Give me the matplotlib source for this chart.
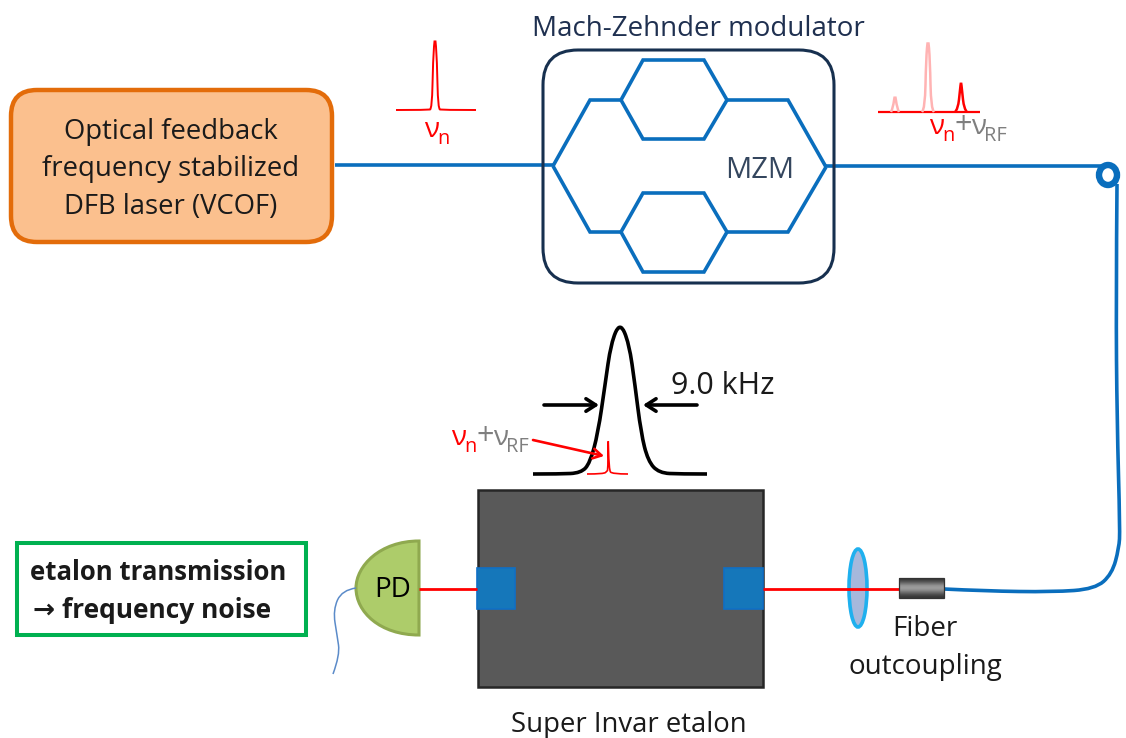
import numpy as np
import matplotlib
matplotlib.use("Agg")
import matplotlib.pyplot as plt
from matplotlib.path import Path
from matplotlib.patches import PathPatch, FancyBboxPatch, Rectangle, Ellipse

plt.rcParams['font.family'] = ['Open Sans', 'DejaVu Sans']

BLUE = '#0a6ebd'
RED = '#ff0000'
PALE = '#ffb3b3'
GREY = '#7f7f7f'
NAVY = '#17304f'

laser_lines = ["Optical feedback", "frequency stabilized", "DFB laser (VCOF)"]
laser_line_y = [132, 169, 207]

arm_in = [(335, 165), (553, 165)]
arm_upper = [(553, 166), (590, 100), (621, 100)]
arm_lower = [(553, 166), (590, 232), (621, 232)]
arm_out_upper = [(727, 100), (788, 100), (826, 167)]
arm_out_lower = [(727, 232), (788, 232), (826, 167)]
hex_upper = [(621, 100), (643, 60), (704, 60), (727, 100), (704, 139), (643, 139), (621, 100)]
hex_lower = [(621, 232), (643, 193), (704, 193), (727, 232), (704, 272), (643, 272), (621, 232)]
fiber_top = [(826, 166), (1113, 166)]
fiber_down = [(1117, 184), (1116, 300), (1117, 420), (1120, 530), (1119, 548), (1112, 574), (1095, 589), (1053, 592), (985, 591), (944, 589)]

peak_in = [(396, 110), (428, 110), (432, 109), (433, 60), (435, 33), (437, 60), (438, 109), (442, 110), (476, 110)]
base_out = [(878, 112), (980, 112)]
peak_small = [(891, 112), (893, 108), (895, 93), (897, 108), (899, 112)]
peak_mid = [(922, 112), (925, 109), (926, 60), (928, 36), (930, 60), (931, 109), (934, 112)]
peak_rf = [(955, 112), (958, 109), (960, 90), (961, 81), (962, 90), (964, 109), (967, 112)]

airy = [(533, 474), (560, 474), (581, 473), (590, 463), (598, 433), (605, 385), (611, 343),
        (620, 322), (629, 343), (635, 385), (641, 433), (648, 461), (659, 473), (680, 474), (707, 474)]
peak_etalon = [(587, 474), (604, 474), (607, 471), (608, 470), (608, 429), (609, 470), (612, 474), (628, 474)]

pd_wire = [(356, 588), (342, 590), (333, 610), (337, 635), (340, 655), (333, 674)]
beam_left = [(419, 589), (477, 589)]
beam_right = [(763, 589), (899, 589)]
collimator_shade = [0.22, 0.32, 0.45, 0.58, 0.62, 0.55, 0.42, 0.30, 0.22]


def smooth(pts):
    # read points are quadratic control points, the ends stay where they are
    verts = [pts[0]]
    codes = [Path.MOVETO]
    for i in range(1, len(pts) - 1):
        if i < len(pts) - 2:
            end = ((pts[i][0] + pts[i + 1][0]) / 2, (pts[i][1] + pts[i + 1][1]) / 2)
        else:
            end = pts[-1]
        verts += [pts[i], end]
        codes += [Path.CURVE3, Path.CURVE3]
    return Path(verts, codes)


def line(ax, pts, color, lw, **kw):
    x, y = zip(*pts)
    ax.plot(x, y, color=color, lw=lw, solid_joinstyle='miter', solid_capstyle='butt', **kw)


def curve(ax, pts, color, lw, z=3):
    ax.add_patch(PathPatch(smooth(pts), fc='none', ec=color, lw=lw, capstyle='butt', zorder=z))


def nu_label(ax, x, y, size=20):
    # v_n + v_RF built from separate pieces, x is the left edge of the v
    ax.text(x, y, "ν", color=RED, fontsize=size, ha='left', va='baseline')
    ax.text(x + 13, y + 7, "n", color=RED, fontsize=size * 0.72, ha='left', va='baseline')


def nu_rf_label(ax, x, y, size=20):
    nu_label(ax, x, y, size)
    ax.text(x + 25, y, "+", color=GREY, fontsize=size + 2, ha='left', va='baseline')
    ax.text(x + 42, y, "ν", color=GREY, fontsize=size, ha='left', va='baseline')
    ax.text(x + 55, y + 7, "RF", color=GREY, fontsize=size * 0.72, ha='left', va='baseline')


fig = plt.figure(figsize=(11.26, 7.38), dpi=100)
ax = fig.add_axes([0, 0, 1, 1])
ax.set_xlim(0, 1126)
ax.set_ylim(738, 0)
ax.axis('off')

# laser
ax.add_patch(FancyBboxPatch((29, 108), 285, 116, boxstyle="round,pad=18,rounding_size=26",
                            fc='#fbc08e', ec='#e36c0a', lw=3.2))
for txt, y in zip(laser_lines, laser_line_y):
    ax.text(171, y, txt, fontsize=19.8, color='#1a1a1a', ha='center', va='center')

# modulator
ax.add_patch(FancyBboxPatch((578, 85), 221, 163, boxstyle="round,pad=35,rounding_size=35",
                            fc='none', ec=NAVY, lw=2.2, zorder=4))
for pts in [arm_in, arm_upper, arm_lower, arm_out_upper, arm_out_lower, hex_upper, hex_lower, fiber_top]:
    line(ax, pts, BLUE, 2.6)
ax.text(760, 171, "MZM", fontsize=21, color='#34465e', ha='center', va='center')
ax.text(698, 29, "Mach-Zehnder modulator", fontsize=20, color='#1f3050', ha='center', va='center')

# fiber to the collimator
ax.add_patch(Ellipse((1108, 175), 18, 20, fc='none', ec=BLUE, lw=4.6, zorder=3))
curve(ax, fiber_down, BLUE, 2.6)

# small spectra
curve(ax, peak_in, RED, 1.4)
nu_label(ax, 424, 137)
curve(ax, peak_small, PALE, 1.8)
curve(ax, peak_mid, PALE, 1.8)
line(ax, base_out, RED, 1.6)
curve(ax, peak_rf, RED, 1.8)
nu_rf_label(ax, 929, 134)

# cavity resonance
curve(ax, airy, 'black', 2.6)
curve(ax, peak_etalon, RED, 1.2, z=4)
ax.annotate("", xy=(599, 405), xytext=(544, 405),
            arrowprops=dict(arrowstyle='->,head_length=0.7,head_width=0.45', color='black', lw=2.6, shrinkA=0, shrinkB=0))
ax.annotate("", xy=(643, 405), xytext=(697, 405),
            arrowprops=dict(arrowstyle='->,head_length=0.7,head_width=0.45', color='black', lw=2.6, shrinkA=0, shrinkB=0))
ax.annotate("", xy=(604, 456), xytext=(533, 440),
            arrowprops=dict(arrowstyle='->,head_length=0.6,head_width=0.35', color=RED, lw=1.9, shrinkA=0, shrinkB=0), zorder=5)
ax.text(723, 386, "9.0 kHz", fontsize=22, color='#1a1a1a', ha='center', va='center')
nu_rf_label(ax, 451, 445)

# etalon
ax.add_patch(Rectangle((478, 490), 285, 197, fc='#595959', ec='#262626', lw=1.8))
ax.add_patch(Rectangle((477, 568), 38, 41, fc='#1577ba', ec='#0f6fc6', lw=1.2, zorder=3))
ax.add_patch(Rectangle((724, 568), 39, 41, fc='#1577ba', ec='#0f6fc6', lw=1.2, zorder=3))
ax.text(629, 725, "Super Invar etalon", fontsize=19.8, color='#1a1a1a', ha='center', va='center')

# photodiode
pd_path = Path([(419, 541), (380, 541), (356, 566), (356, 588), (356, 612), (380, 635), (419, 635), (419, 541)],
               [Path.MOVETO, Path.CURVE4, Path.CURVE4, Path.CURVE4, Path.CURVE4, Path.CURVE4, Path.CURVE4, Path.CLOSEPOLY])
ax.add_patch(PathPatch(pd_path, fc='#adcc6a', ec='#8fa94f', lw=2.2, zorder=3))
ax.text(393, 590, "PD", fontsize=20, color='black', ha='center', va='center', zorder=4)
curve(ax, pd_wire, '#5b8bc9', 1.1)

# beams, lens and collimator
ax.add_patch(Ellipse((858, 588), 18, 78, fc='#a6b8dc', ec='#1fb0ee', lw=2.6, zorder=2))
line(ax, beam_left, RED, 2.0, zorder=3)
line(ax, beam_right, RED, 2.0, zorder=3)
shade = np.array(collimator_shade).reshape(-1, 1)
ax.imshow(shade, extent=(899, 944, 598, 578), cmap='gray', vmin=0, vmax=1, aspect='auto', zorder=3, interpolation='bilinear')
ax.add_patch(Rectangle((899, 578), 45, 20, fc='none', ec='#333333', lw=0.9, zorder=4))
ax.set_xlim(0, 1126)
ax.set_ylim(738, 0)
ax.text(925, 629, "Fiber", fontsize=20, color='#1a1a1a', ha='center', va='center')
ax.text(925, 667, "outcoupling", fontsize=20, color='#1a1a1a', ha='center', va='center')

# result box
ax.add_patch(Rectangle((17, 543), 289, 92, fc='white', ec='#00b050', lw=2.9))
ax.text(158, 572, "etalon transmission", fontsize=18.5, fontweight='bold', color='#1a1a1a', ha='center', va='center')
ax.text(152, 610, "→ frequency noise", fontsize=19, fontweight='bold', color='#1a1a1a', ha='center', va='center')

fig.savefig("out.png", dpi=100)
